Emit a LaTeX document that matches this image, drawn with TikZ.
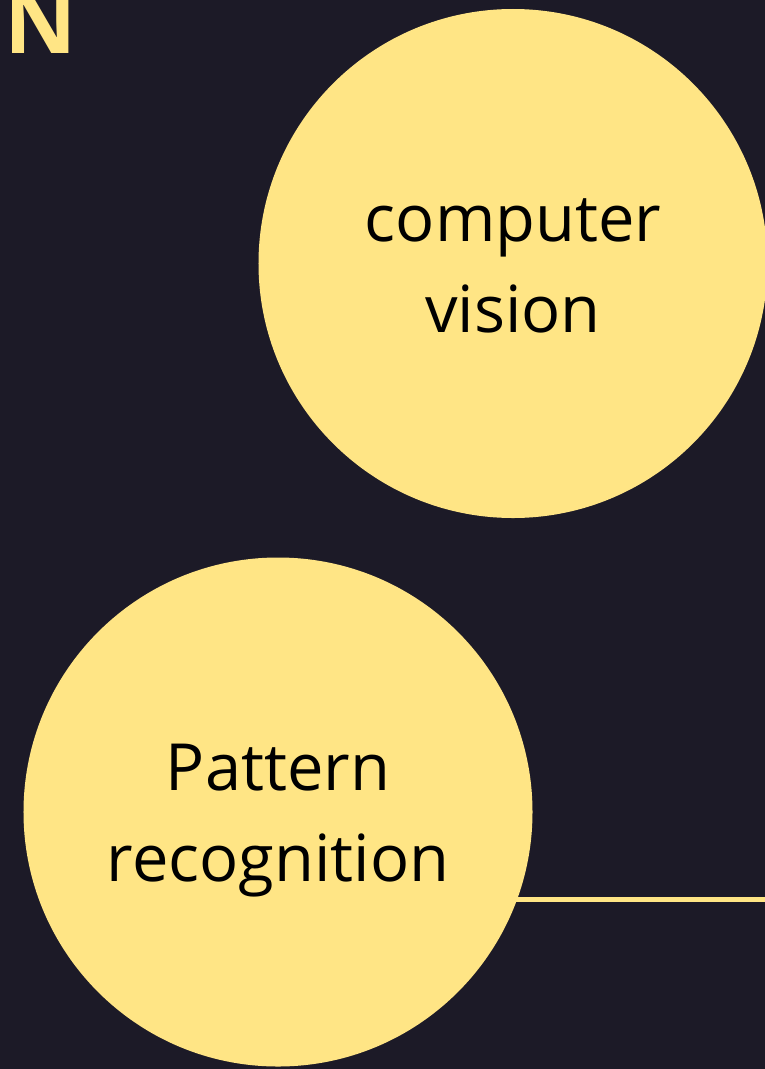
\documentclass[tikz,border=0pt]{standalone}
\usepackage{fontspec}
\setmainfont{Open Sans}
\begin{document}
\begin{tikzpicture}[x=1bp,y=-1bp,
  bubble/.style={circle,fill=sun,draw=none,inner sep=0pt,outer sep=0pt,minimum size=509bp,
    align=center,text=black,font=\fontsize{65bp}{91bp}\selectfont,
    text height=140bp,text depth=2bp},
  link/.style={draw=sun,line width=5bp}]
\definecolor{bg}{HTML}{1C1A27}
\definecolor{sun}{HTML}{FFE585}
\useasboundingbox (0,0) rectangle (765,1069);
\fill[bg] (0,0) rectangle (765,1069);
\clip (0,0) rectangle (765,1069);
\node[anchor=base west,inner sep=0pt,text=sun,font=\fontsize{89bp}{89bp}\selectfont\bfseries] (title) at (4.5,53) {N};
\coordinate (prc) at (278,812);
\coordinate (e) at (766,899);
\draw[link] (e -| prc) -- (e);
\node[bubble] (cv) at (513,263.5) {computer\\vision};
\node[bubble] (pr) at (prc) {Pattern\\recognition};
\end{tikzpicture}
\end{document}
